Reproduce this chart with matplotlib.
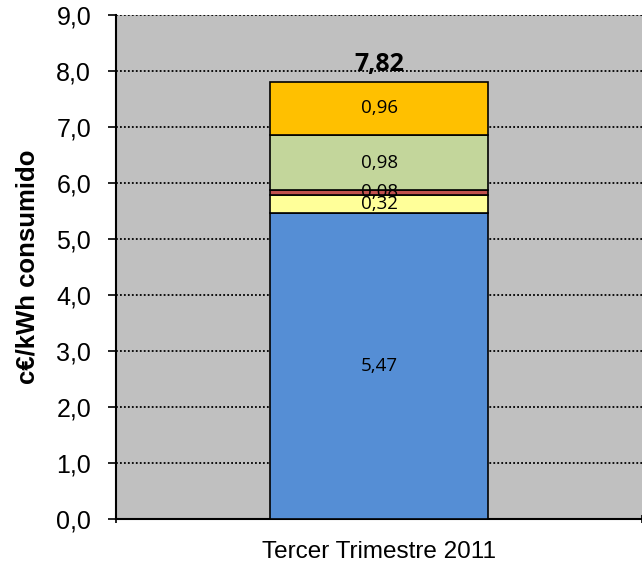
import numpy as np
import matplotlib.pyplot as plt
from matplotlib.ticker import FuncFormatter

category = "Tercer Trimestre 2011"
values = [5.47, 0.32, 0.08, 0.98, 0.96]
colors = ["#558ED5", "#FFFF99", "#C0504D", "#C3D69B", "#FFC000"]
total = 7.82


def comma(v, pos=None):
    return f"{v:.1f}".replace(".", ",")


fig = plt.figure(figsize=(6.42, 5.71), dpi=100)
ax = fig.add_axes([0.181, 0.091, 0.819, 0.883])
ax.set_facecolor("#C0C0C0")

bottom = 0.0
for v, c in zip(values, colors):
    ax.bar(0, v, bottom=bottom, width=0.414, color=c, edgecolor="black",
           linewidth=1.2, zorder=3)
    ax.text(0, bottom + v / 2, f"{v:.2f}".replace(".", ","), ha="center",
            va="center", fontsize=13.5, family="Open Sans", zorder=4)
    bottom += v

ax.text(0, total + 0.17, f"{total:.2f}".replace(".", ","), ha="center",
        va="baseline", fontsize=18, fontweight="bold", family="Open Sans", zorder=4)

ax.set_xlim(-0.5, 0.5)
ax.set_ylim(0, 9)
ax.set_yticks(np.arange(0, 9.1, 1))
ax.yaxis.set_major_formatter(FuncFormatter(comma))
ax.grid(axis="y", color="black", linestyle=(0, (1, 1.2)), linewidth=1.3, zorder=1)

ax.set_xticks([0])
ax.set_xticklabels([category], family="Liberation Sans", fontsize=17.5)
ax.tick_params(axis="x", length=0, pad=16)
ax.set_xticks([-0.5, 0.5], minor=True)
ax.tick_params(axis="x", which="minor", length=6, width=1.2, direction="inout")
ax.tick_params(axis="y", length=6, width=1.2, direction="out", labelsize=18, pad=12)
for lab in ax.get_yticklabels():
    lab.set_family("Liberation Sans")

ax.spines["top"].set_visible(False)
ax.spines["right"].set_visible(False)
ax.spines["left"].set_linewidth(1.5)
ax.spines["bottom"].set_linewidth(1.5)

ax.set_ylabel("c€/kWh consumido", family="Liberation Sans", fontsize=18.5,
              fontweight="bold", labelpad=12)

fig.savefig("out.png", dpi=100)
